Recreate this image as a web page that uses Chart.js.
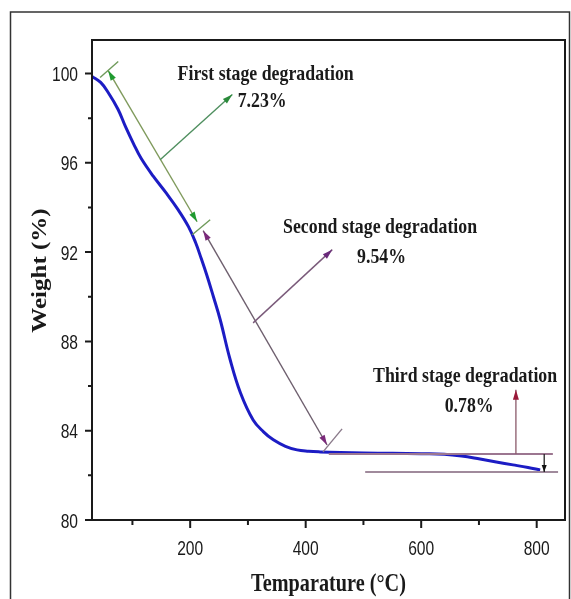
<!DOCTYPE html>
<html>
<head>
<meta charset="utf-8">
<script src="https://cdn.jsdelivr.net/npm/chart.js@4.4.1/dist/chart.umd.min.js"></script>
<style>
  html, body { margin: 0; padding: 0; background: #fff; }
  #wrap { width: 571px; height: 599px; }
</style>
</head>
<body>
<div id="wrap"><canvas id="tga"></canvas></div>
<script>
// TGA curve
const temperature = [30, 45, 58, 75, 88, 102, 115, 136, 158, 179, 197, 209, 219, 229, 240, 252, 269, 287, 309, 327, 344, 365, 385, 405, 425, 460, 500, 550, 600, 640, 670, 702, 730, 759, 785, 806];
const weight = [99.87, 99.6, 99.15, 98.4, 97.62, 96.85, 96.2, 95.4, 94.66, 93.9, 93.14, 92.45, 91.72, 90.95, 90.02, 88.97, 87.2, 85.7, 84.48, 83.95, 83.59, 83.3, 83.14, 83.08, 83.05, 83.02, 83.0, 82.99, 82.97, 82.95, 82.87, 82.73, 82.6, 82.47, 82.35, 82.24];

// axes
const xMajor = [200, 400, 600, 800];
const xMinor = [100, 300, 500, 700];
const yMajor = [80, 84, 88, 92, 96, 100];
const yMinor = [82, 86, 90, 94, 98];
const xTitle = 'Temparature (°C)';
const yTitle = 'Weight (%)';

// stage labels
const stageNames = ['First stage degradation', 'Second stage degradation', 'Third stage degradation'];
const stageLoss = ['7.23%', '9.54%', '0.78%'];

const SERIF = '"Liberation Serif", "Times New Roman", serif';
const SANS = '"Liberation Sans", Arial, sans-serif';

/* ===============================
   helpers
=============================== */
// the figure is a bit squeezed sideways, so text gets a horizontal scale
function text(ctx, s, x, y, font, align, sx, rot) {
  ctx.save();
  ctx.translate(x, y);
  if (rot) {
    ctx.rotate(rot);
    ctx.scale(1, sx);
  } else {
    ctx.scale(sx, 1);
  }
  ctx.font = font;
  ctx.fillStyle = '#1a1a1a';
  ctx.textAlign = align;
  ctx.textBaseline = 'alphabetic';
  ctx.fillText(s, 0, 0);
  ctx.restore();
}

function head(ctx, x1, y1, x2, y2, color, len, wid) {
  const a = Math.atan2(y2 - y1, x2 - x1);
  ctx.save();
  ctx.translate(x2, y2);
  ctx.rotate(a);
  ctx.fillStyle = color;
  ctx.beginPath();
  ctx.moveTo(0, 0);
  ctx.lineTo(-len, -wid / 2);
  ctx.lineTo(-len, wid / 2);
  ctx.closePath();
  ctx.fill();
  ctx.restore();
}

function seg(ctx, p1, p2, color, w) {
  ctx.save();
  ctx.strokeStyle = color;
  ctx.lineWidth = w;
  ctx.beginPath();
  ctx.moveTo(p1[0], p1[1]);
  ctx.lineTo(p2[0], p2[1]);
  ctx.stroke();
  ctx.restore();
}

/* ===============================
   plugin: frame, ticks, labels, arrows
=============================== */
const decor = {
  id: 'decor',
  beforeDraw(chart) {
    const ctx = chart.ctx;
    ctx.save();
    ctx.fillStyle = '#fff';
    ctx.fillRect(0, 0, chart.width, chart.height);
    ctx.strokeStyle = '#333';
    ctx.lineWidth = 1.5;
    ctx.strokeRect(10.5, 12, 559, 620);
    ctx.restore();
  },
  afterDatasetsDraw(chart) {
    const ctx = chart.ctx;
    const xs = chart.scales.x, ys = chart.scales.y;
    const P = (t, w) => [xs.getPixelForValue(t), ys.getPixelForValue(w)];

    // first stage
    const g1 = P(58, 100.13), g2 = P(212, 93.36);
    seg(ctx, g1, g2, '#7f9a5c', 1.4);
    head(ctx, g2[0], g2[1], g1[0], g1[1], '#1f9a2f', 10, 6);
    head(ctx, g1[0], g1[1], g2[0], g2[1], '#1f9a2f', 10, 6);
    seg(ctx, P(44, 99.82), P(75.4, 100.54), '#6f9a5a', 1.4);
    seg(ctx, P(203.5, 92.78), P(234.6, 93.45), '#6f9a5a', 1.4);
    const gb1 = P(148, 96.14), gb2 = P(273, 99.06);
    seg(ctx, gb1, gb2, '#4f8f5f', 1.4);
    head(ctx, gb1[0], gb1[1], gb2[0], gb2[1], '#2a8a3a', 10, 6);

    // second stage
    const p1 = P(222.5, 92.96), p2 = P(437, 83.36);
    seg(ctx, p1, p2, '#6e5f6e', 1.4);
    head(ctx, p2[0], p2[1], p1[0], p1[1], '#7a2a7a', 10, 6);
    head(ctx, p1[0], p1[1], p2[0], p2[1], '#7a2a7a', 10, 6);
    seg(ctx, P(430, 83.05), P(463, 84.08), '#8a7a8a', 1.4);
    const pb1 = P(309, 88.83), pb2 = P(446, 92.11);
    seg(ctx, pb1, pb2, '#7a5a7a', 1.4);
    head(ctx, pb1[0], pb1[1], pb2[0], pb2[1], '#6a2a7a', 10, 6);

    // third stage
    seg(ctx, P(440, 82.96), P(828, 82.96), '#9c7690', 2);
    seg(ctx, P(503, 82.15), P(837, 82.15), '#a08a9c', 2);
    const v1 = P(764, 82.96), v2 = P(764, 85.83);
    seg(ctx, v1, v2, '#8a5a6a', 1.3);
    head(ctx, v1[0], v1[1], v2[0], v2[1], '#9a1a3a', 10, 6);
    const s1 = P(813, 82.96), s2 = P(813, 82.15);
    seg(ctx, s1, s2, '#222', 1.3);
    head(ctx, s1[0], s1[1], s2[0], s2[1], '#111', 7, 5);

    // texts
    const f = 'bold 22px ' + SERIF;
    const lab = [
      [stageNames[0], 330.7, 99.73], [stageLoss[0], 324.6, 98.48],
      [stageNames[1], 528.8, 92.87], [stageLoss[1], 531.4, 91.52],
      [stageNames[2], 676, 86.19], [stageLoss[2], 683, 84.84]
    ];
    lab.forEach(([s, t, w]) => {
      const p = P(t, w);
      text(ctx, s, p[0], p[1], f, 'center', 0.81);
    });
  },
  afterDraw(chart) {
    const ctx = chart.ctx;
    const a = chart.chartArea;
    const xs = chart.scales.x, ys = chart.scales.y;

    ctx.save();
    ctx.strokeStyle = '#1a1a1a';
    ctx.lineWidth = 2;
    ctx.strokeRect(a.left, a.top, a.right - a.left, a.bottom - a.top);

    // tick marks, pointing out
    ctx.lineWidth = 2;
    ctx.beginPath();
    xMajor.forEach(v => { const x = xs.getPixelForValue(v); ctx.moveTo(x, a.bottom); ctx.lineTo(x, a.bottom + 8); });
    xMinor.forEach(v => { const x = xs.getPixelForValue(v); ctx.moveTo(x, a.bottom); ctx.lineTo(x, a.bottom + 5); });
    yMajor.forEach(v => { const y = ys.getPixelForValue(v); ctx.moveTo(a.left, y); ctx.lineTo(a.left - 7, y); });
    yMinor.forEach(v => { const y = ys.getPixelForValue(v); ctx.moveTo(a.left, y); ctx.lineTo(a.left - 4, y); });
    ctx.stroke();
    ctx.restore();

    const tf = '20px ' + SANS;
    xMajor.forEach(v => text(ctx, String(v), xs.getPixelForValue(v), 555, tf, 'center', 0.78));
    yMajor.forEach(v => text(ctx, String(v), 78, ys.getPixelForValue(v) + 7.5, tf, 'right', 0.78));

    const ttl = 'bold 25px ' + SERIF;
    text(ctx, xTitle, (a.left + a.right) / 2, 591, ttl, 'center', 0.81);
    text(ctx, yTitle, 46, (a.top + a.bottom) / 2 - 9.5, ttl, 'center', 0.81, -Math.PI / 2);
  }
};

new Chart(document.getElementById('tga'), {
  type: 'line',
  data: {
    datasets: [{
      data: temperature.map((t, i) => ({ x: t, y: weight[i] })),
      borderColor: '#1c1cc4',
      borderWidth: 3,
      pointRadius: 0,
      tension: 0.4,
      fill: false
    }]
  },
  options: {
    responsive: true,
    maintainAspectRatio: false,
    animation: false,
    devicePixelRatio: 1,
    layout: { padding: { top: 40, right: 6, left: 0, bottom: 0 } },
    plugins: {
      legend: { display: false },
      tooltip: { enabled: false }
    },
    scales: {
      x: {
        type: 'linear',
        min: 30,
        max: 849,
        grid: { display: false },
        border: { display: false },
        ticks: { display: false },
        afterFit: s => { s.height = 79; }
      },
      y: {
        type: 'linear',
        min: 80,
        max: 101.5,
        grid: { display: false },
        border: { display: false },
        ticks: { display: false },
        afterFit: s => { s.width = 92; }
      }
    }
  },
  plugins: [decor]
});
</script>
</body>
</html>
